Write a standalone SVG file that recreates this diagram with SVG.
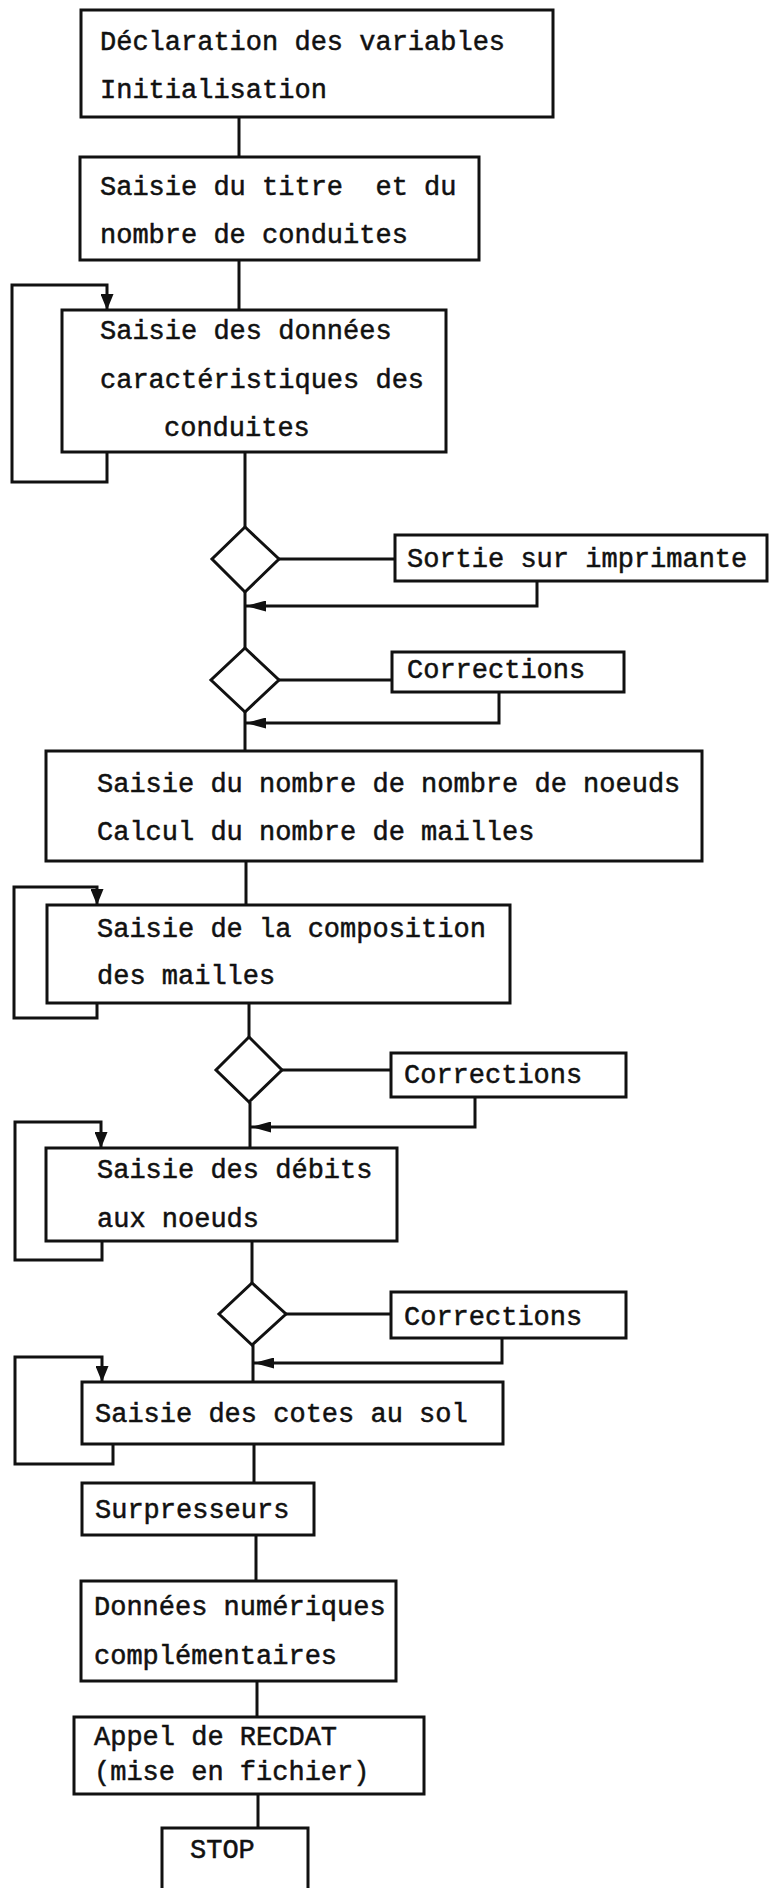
<svg xmlns="http://www.w3.org/2000/svg" width="769" height="1888" viewBox="0 0 769 1888">
  <style>
    .box { fill: #ffffff; stroke: #111111; stroke-width: 3; }
    .dia { fill: #ffffff; stroke: #111111; stroke-width: 3; stroke-linejoin: miter; }
    .wire { fill: none; stroke: #111111; stroke-width: 3; }
    .loop { fill: none; stroke: #111111; stroke-width: 3; marker-end: url(#headDown); }
    .back { fill: none; stroke: #111111; stroke-width: 3; marker-end: url(#headLeft); }
    text { font-family: "Liberation Mono", "DejaVu Sans Mono", monospace; font-size: 27px; fill: #111111; stroke: #111111; stroke-width: 0.5; white-space: pre; }
  </style>
  <defs>
    <marker id="headDown" markerUnits="userSpaceOnUse" viewBox="0 0 16 13" refX="16" refY="6.5" markerWidth="16" markerHeight="13" orient="auto">
      <path d="M0,0 L16,6.5 L0,13 z" fill="#111111"/>
    </marker>
    <marker id="headLeft" markerUnits="userSpaceOnUse" viewBox="0 0 20 11" refX="20" refY="5.5" markerWidth="20" markerHeight="11" orient="auto">
      <path d="M0,0 L20,5.5 L0,11 z" fill="#111111"/>
    </marker>
  </defs>

  <!-- connectors -->
  <g id="connectors">
    <!-- main flow -->
    <path class="wire" d="M239 117 V157"/>
    <path class="wire" d="M239 260 V310"/>
    <path class="wire" d="M245 452 V527"/>
    <path class="wire" d="M245 592 V648"/>
    <path class="wire" d="M245 712 V751"/>
    <path class="wire" d="M246 861 V905"/>
    <path class="wire" d="M249 1003 V1037"/>
    <path class="wire" d="M250 1102 V1148"/>
    <path class="wire" d="M252 1241 V1283"/>
    <path class="wire" d="M253 1345 V1382"/>
    <path class="wire" d="M254 1444 V1483"/>
    <path class="wire" d="M256 1535 V1581"/>
    <path class="wire" d="M257 1681 V1717"/>
    <path class="wire" d="M258 1794 V1828"/>

    <!-- branches to side boxes -->
    <path class="wire" d="M279 559 H395"/>
    <path class="wire" d="M279 680 H392"/>
    <path class="wire" d="M282 1070 H391"/>
    <path class="wire" d="M286 1314 H391"/>

    <!-- returns from side boxes -->
    <path class="back" d="M537 581 V606 H246"/>
    <path class="back" d="M499 692 V723 H246"/>
    <path class="back" d="M475 1097 V1127 H251"/>
    <path class="back" d="M502 1338 V1363 H254"/>

    <!-- repeat loops -->
    <path class="loop" d="M107 452 V482 H12 V285 H107 V310"/>
    <path class="loop" d="M97 1003 V1018 H14 V887 H97 V905"/>
    <path class="loop" d="M102 1241 V1260 H15 V1122 H101 V1148"/>
    <path class="loop" d="M113 1444 V1464 H15 V1357 H102 V1382"/>
  </g>

  <g id="n-declaration">
    <rect class="box" x="81" y="10" width="472" height="107"/>
    <text x="100" y="50">Déclaration des variables</text>
    <text x="100" y="98">Initialisation</text>
  </g>

  <g id="n-titre">
    <rect class="box" x="80" y="157" width="399" height="103"/>
    <text x="100" y="195">Saisie du titre  et du</text>
    <text x="100" y="243">nombre de conduites</text>
  </g>

  <g id="n-conduites">
    <rect class="box" x="62" y="310" width="384" height="142"/>
    <text x="100" y="339">Saisie des données</text>
    <text x="100" y="388">caractéristiques des</text>
    <text x="164" y="436">conduites</text>
  </g>

  <g id="d-impression">
    <polygon class="dia" points="245,527 279,559 245,592 212,559"/>
  </g>

  <g id="n-imprimante">
    <rect class="box" x="395" y="535" width="372" height="46"/>
    <text x="407" y="567">Sortie sur imprimante</text>
  </g>

  <g id="d-corr1">
    <polygon class="dia" points="245,648 279,680 245,712 211,680"/>
  </g>

  <g id="n-corr1">
    <rect class="box" x="392" y="652" width="232" height="40"/>
    <text x="407" y="678">Corrections</text>
  </g>

  <g id="n-noeuds">
    <rect class="box" x="46" y="751" width="656" height="110"/>
    <text x="97" y="792">Saisie du nombre de nombre de noeuds</text>
    <text x="97" y="840">Calcul du nombre de mailles</text>
  </g>

  <g id="n-mailles">
    <rect class="box" x="47" y="905" width="463" height="98"/>
    <text x="97" y="937">Saisie de la composition</text>
    <text x="97" y="984">des mailles</text>
  </g>

  <g id="d-corr2">
    <polygon class="dia" points="249,1037 282,1070 249,1102 216,1070"/>
  </g>

  <g id="n-corr2">
    <rect class="box" x="391" y="1053" width="235" height="44"/>
    <text x="404" y="1083">Corrections</text>
  </g>

  <g id="n-debits">
    <rect class="box" x="46" y="1148" width="351" height="93"/>
    <text x="97" y="1178">Saisie des débits</text>
    <text x="97" y="1227">aux noeuds</text>
  </g>

  <g id="d-corr3">
    <polygon class="dia" points="252,1283 286,1314 252,1345 219,1314"/>
  </g>

  <g id="n-corr3">
    <rect class="box" x="391" y="1292" width="235" height="46"/>
    <text x="404" y="1325">Corrections</text>
  </g>

  <g id="n-cotes">
    <rect class="box" x="82" y="1382" width="421" height="62"/>
    <text x="95" y="1422">Saisie des cotes au sol</text>
  </g>

  <g id="n-surpresseurs">
    <rect class="box" x="82" y="1483" width="232" height="52"/>
    <text x="95" y="1518">Surpresseurs</text>
  </g>

  <g id="n-donnees">
    <rect class="box" x="81" y="1581" width="315" height="100"/>
    <text x="94" y="1615">Données numériques</text>
    <text x="94" y="1664">complémentaires</text>
  </g>

  <g id="n-recdat">
    <rect class="box" x="74" y="1717" width="350" height="77"/>
    <text x="94" y="1745">Appel de RECDAT</text>
    <text x="94" y="1780">(mise en fichier)</text>
  </g>

  <g id="n-stop">
    <path class="wire" d="M162 1892 V1828 H308 V1892"/>
    <text x="190" y="1858">STOP</text>
  </g>
</svg>
